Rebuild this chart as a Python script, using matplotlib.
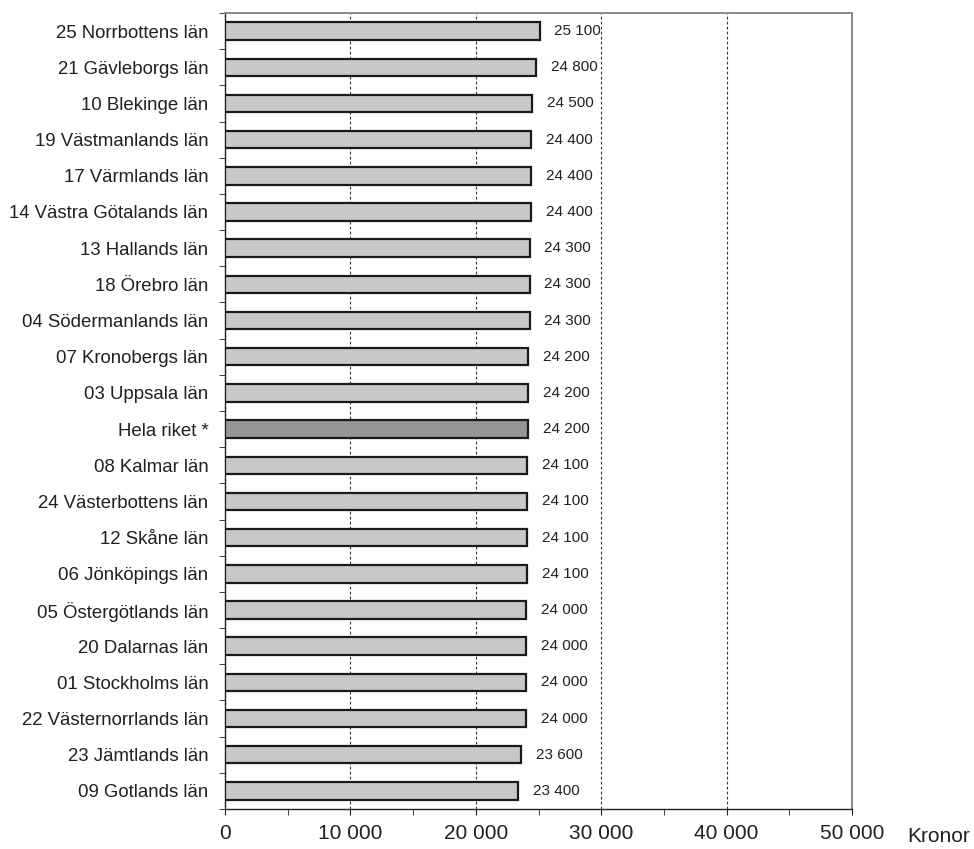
import numpy as np
from matplotlib import pyplot as plt
from matplotlib.ticker import FuncFormatter

plt.rcParams['font.family'] = ['Liberation Sans', 'DejaVu Sans']

lan = ['25 Norrbottens län', '21 Gävleborgs län', '10 Blekinge län',
       '19 Västmanlands län', '17 Värmlands län', '14 Västra Götalands län',
       '13 Hallands län', '18 Örebro län', '04 Södermanlands län',
       '07 Kronobergs län', '03 Uppsala län', 'Hela riket *',
       '08 Kalmar län', '24 Västerbottens län', '12 Skåne län',
       '06 Jönköpings län', '05 Östergötlands län', '20 Dalarnas län',
       '01 Stockholms län', '22 Västernorrlands län', '23 Jämtlands län',
       '09 Gotlands län']
kronor = [25100, 24800, 24500, 24400, 24400, 24400, 24300, 24300, 24300,
          24200, 24200, 24200, 24100, 24100, 24100, 24100, 24000, 24000,
          24000, 24000, 23600, 23400]
riket = 'Hela riket *'

ink = '#231f20'
fig = plt.figure(figsize=(9.74, 8.49), dpi=100)
ax = fig.add_axes([225 / 974, 1 - 809 / 849, 627 / 974, 796 / 849])

y = np.arange(len(lan))
colours = ['#959597' if l == riket else '#c8c8ca' for l in lan]
ax.barh(y, kronor, height=0.48, color=colours, edgecolor='#1a1a1a',
        linewidth=1.6, zorder=3)

# value labels just past each bar end
for yi, v in zip(y, kronor):
    ax.annotate(f'{v:,}'.replace(',', ' '), (v, yi), xytext=(10.5, 0),
                textcoords='offset points', ha='left', va='center',
                fontsize=11, color=ink)

ax.set_ylim(len(lan) - 0.5, -0.5)
ax.set_xlim(0, 50000)

ax.set_yticks(y, lan, fontsize=13.4, color=ink)
ax.set_yticks(np.arange(len(lan) + 1) - 0.5, minor=True)
ax.tick_params(axis='y', which='major', length=0, pad=12)
ax.tick_params(axis='y', which='minor', length=4.5, direction='out', color=ink)

ax.set_xticks(np.arange(0, 50001, 10000))
ax.set_xticks(np.arange(0, 50001, 5000), minor=True)
ax.xaxis.set_major_formatter(FuncFormatter(lambda v, _: f'{int(v):,}'.replace(',', ' ')))
ax.tick_params(axis='x', which='both', length=4.5, direction='out', color=ink,
               labelsize=15, labelcolor=ink, pad=6)

for gx in range(10000, 50000, 10000):
    ax.axvline(gx, color='#333333', lw=0.8, ls=(0, (2.5, 2)), zorder=1)

for s in ('top', 'right'):
    ax.spines[s].set_color('#8a8a8a')
    ax.spines[s].set_linewidth(1.4)
for s in ('left', 'bottom'):
    ax.spines[s].set_color(ink)
    ax.spines[s].set_linewidth(1.0)

fig.text(907 / 974, 1 - 837 / 849, 'Kronor', fontsize=15, color=ink,
         ha='left', va='center')

fig.savefig('out.png', dpi=100)
